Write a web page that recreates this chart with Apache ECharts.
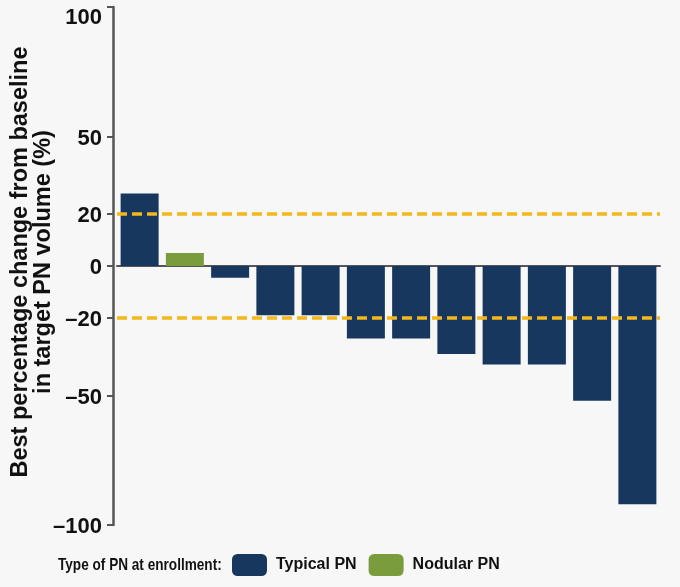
<!DOCTYPE html>
<html>
<head>
<meta charset="utf-8">
<script src="https://cdn.jsdelivr.net/npm/echarts@6/dist/echarts.min.js"></script>
<style>
html,body{margin:0;padding:0;background:#f7f7f7;}
#c{width:680px;height:587px;}
</style>
</head>
<body>
<div id="c"></div>
<script>
var patients = ['P1','P2','P3','P4','P5','P6','P7','P8','P9','P10','P11','P12'];
var typicalPN = [28, null, -4.5, -19, -19, -28, -28, -34, -38, -38, -52, -92];
var nodularPN = [null, 5, null, null, null, null, null, null, null, null, null, null];
var yTicks = [-100, -50, -20, 0, 20, 50, 100];
var thresholds = [20, -20];

var chart = echarts.init(document.getElementById('c'));
var fontFam = '"Liberation Sans", Arial, Helvetica, sans-serif';

chart.setOption({
  backgroundColor: '#f7f7f7',
  animation: false,
  grid: { left: 117, right: 20, top: 7, bottom: 62, outerBoundsMode: 'none', containLabel: false },
  xAxis: {
    type: 'category',
    data: patients,
    axisLine: { onZero: true, lineStyle: { color: '#555', width: 2 } },
    axisTick: { show: false },
    axisLabel: { show: false },
    splitLine: { show: false }
  },
  yAxis: {
    type: 'value',
    min: -100,
    max: 100,
    offset: 4,
    axisLine: { show: true, lineStyle: { color: '#555', width: 2.5 } },
    axisTick: { show: true, length: 6, customValues: yTicks, lineStyle: { color: '#555', width: 2 } },
    axisLabel: {
      customValues: yTicks,
      margin: 11,
      color: '#111',
      fontFamily: fontFam,
      fontWeight: 'bold',
      fontSize: 22,
      verticalAlignMaxLabel: 'top',
      formatter: function (v) {
        var s = v < 0 ? '\u2013' + Math.abs(v) : String(v);
        return v === 100 ? '{m|' + s + '}' : '{n|' + s + '}';
      },
      rich: {
        n: { fontFamily: fontFam, fontWeight: 'bold', fontSize: 22, color: '#111', padding: [4, 0, 0, 0] },
        m: { fontFamily: fontFam, fontWeight: 'bold', fontSize: 22, color: '#111', padding: [0, 0, 0, 0] }
      }
    },
    splitLine: { show: false },
    name: 'Best percentage change from baseline\nin target PN volume (%)',
    nameLocation: 'middle',
    nameGap: 58,
    nameMoveOverlap: false,
    nameTextStyle: {
      color: '#111',
      fontFamily: fontFam,
      fontWeight: 'bold',
      fontSize: 23.5,
      lineHeight: 23,
      padding: [0, 0, 0, 8]
    }
  },
  legend: {
    left: 232,
    top: 554,
    padding: 0,
    itemWidth: 35,
    itemHeight: 22,
    itemGap: 12,
    textStyle: { color: '#111', fontFamily: fontFam, fontWeight: 'bold', fontSize: 16, padding: [0, 0, 0, 4] },
    data: ['Typical PN', 'Nodular PN']
  },
  graphic: [{
    type: 'text',
    x: 58,
    y: 565,
    scaleX: 0.8,
    style: {
      text: 'Type of PN at enrollment:',
      fill: '#111',
      font: 'bold 17px ' + fontFam,
      verticalAlign: 'middle',
      align: 'left'
    }
  }],
  series: [
    {
      name: 'Typical PN',
      type: 'bar',
      stack: 'pn',
      data: typicalPN,
      barWidth: 38,
      itemStyle: { color: '#17375f' },
      markLine: {
        silent: true,
        symbol: 'none',
        label: { show: false },
        lineStyle: { color: '#f4b81c', type: [10, 5], width: 3.5 },
        data: thresholds.map(function (t) { return { yAxis: t }; })
      }
    },
    {
      name: 'Nodular PN',
      type: 'bar',
      stack: 'pn',
      data: nodularPN,
      barWidth: 38,
      itemStyle: { color: '#7b9c3d' }
    }
  ]
});
</script>
</body>
</html>
